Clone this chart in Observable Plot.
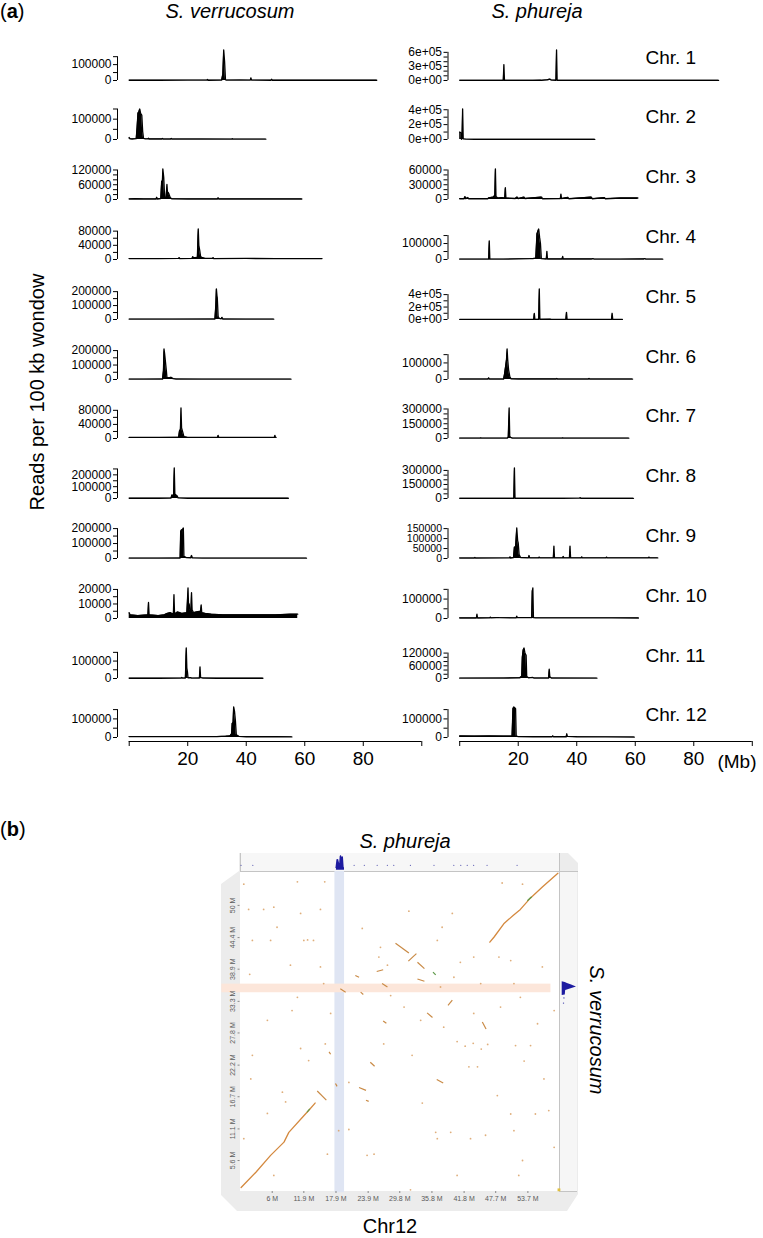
<!DOCTYPE html>
<html><head><meta charset="utf-8">
<script src="https://cdn.jsdelivr.net/npm/d3@7"></script>
<script src="https://cdn.jsdelivr.net/npm/@observablehq/plot@0.6"></script>
<style>
body{margin:0;background:#fff;}
#root{position:relative;width:763px;height:1238px;overflow:hidden;font-family:"Liberation Sans",Arial,Helvetica,sans-serif;color:#000;background:#fff;}
.abs{position:absolute;white-space:nowrap;}
#root svg{overflow:visible;position:absolute;}
#root svg.pa text{fill:#000 !important;}
#root svg.pb text{fill:#5a5a5a !important;}
</style></head><body><div id="root"></div>
<script>
// ---------------- DATA (a): reads per 100 kb window, [Mb, reads] ----------------
const chromosomes = ["Chr. 1","Chr. 2","Chr. 3","Chr. 4","Chr. 5","Chr. 6","Chr. 7","Chr. 8","Chr. 9","Chr. 10","Chr. 11","Chr. 12"];
const speciesA = ["S. verrucosum", "S. phureja"];

const verr1 = [[0,1500],[10,1500],[20,1800],[26.6,2000],[26.8,6000],[27.0,1500],[31.6,2000],[32.0,40000],[32.3,192000],[32.6,120000],[32.9,5000],[33.2,2000],[38,2500],[41.4,2000],[41.6,17000],[41.8,2000],[48.5,1500],[48.7,8000],[48.9,1500],[55,1500],[70,1500],[84.6,1500]];
const verr2 = [[0,10000],[0.3,3000],[1,2500],[2.4,4000],[2.7,60000],[3.0,130000],[3.3,135000],[3.6,150000],[3.9,128000],[4.3,120000],[4.6,40000],[4.9,5000],[5.5,3000],[6.4,3000],[6.6,6000],[6.8,2500],[11.2,2500],[11.4,5000],[11.6,2000],[14.2,2000],[14.4,5000],[14.6,2000],[25,2000],[35.1,1500],[35.3,4000],[35.5,1500],[46.7,1500]];
const verr3 = [[0,2000],[2,3000],[5,2000],[9.2,2000],[9.4,9000],[9.6,2000],[10.8,4000],[11.1,75000],[11.3,60000],[11.5,124000],[11.8,90000],[12.1,10000],[12.6,8000],[12.9,61000],[13.1,25000],[13.3,29000],[13.6,22000],[14.0,8000],[14.5,3000],[20,2000],[30.2,2000],[30.4,7000],[30.6,2000],[40,2000],[59,2000]];
const verr4 = [[0,2500],[10,2500],[16.9,3000],[17.1,5000],[17.3,2500],[21.5,3000],[21.7,8000],[22.0,5000],[23.3,6000],[23.6,86000],[23.8,40000],[24.1,26000],[24.4,8000],[25,5000],[26,3000],[28.5,3000],[28.7,5000],[28.9,2500],[40,3000],[50,2500],[65.9,2500]];
const verr5 = [[0,2000],[15,2000],[29.3,3000],[29.6,100000],[29.8,219000],[30.0,170000],[30.1,157000],[30.4,20000],[30.8,8000],[31.4,5000],[31.7,15000],[32.0,3000],[40,2000],[49.4,2000]];
const verr6 = [[0,2000],[5,2500],[11.4,3000],[11.7,60000],[11.9,211000],[12.1,180000],[12.4,120000],[12.7,60000],[12.9,15000],[13.5,12000],[14.3,15000],[15.0,6000],[16,3000],[25,2500],[35,2000],[55.3,2000]];
const verr7 = [[0,3000],[10,3000],[16.9,3500],[17.2,22000],[17.5,25000],[17.7,86600],[17.9,30000],[18.3,18000],[18.7,5000],[20,3000],[30.2,3000],[30.4,9000],[30.6,3000],[40,3000],[49.6,3000],[49.8,9000],[50.0,3000],[50.2,3000]];
const verr8 = [[0,2000],[10,2000],[14.3,3000],[14.6,30000],[14.9,12000],[15.2,40000],[15.4,258000],[15.6,40000],[15.9,30000],[16.3,25000],[16.7,5000],[20,2000],[35,2000],[54.4,2000]];
const verr9 = [[0,2000],[10,2000],[17.4,3000],[17.6,180000],[17.9,192000],[18.2,190000],[18.5,204000],[18.7,15000],[19.5,6000],[21.1,5000],[21.3,20000],[21.6,4000],[25,2000],[40,2000],[60.6,2000]];
const verr10 = [[0,4000],[0.3,2500],[3,2000],[6.4,2500],[6.6,11000],[6.8,2500],[10,2000],[12,2500],[13,3500],[14,4000],[15.1,3000],[15.3,16400],[15.5,3000],[16.5,4500],[18,3500],[19.7,4000],[19.9,12000],[20.1,21000],[20.3,8000],[20.5,10000],[20.7,6000],[21.1,5000],[21.3,17800],[21.5,6000],[22,4000],[23,4500],[24.4,5000],[24.6,9300],[24.8,4000],[26,3500],[28,3000],[32,2500],[38,2500],[45,2500],[50,2500],[55,3000],[57.6,3000]];
const verr11 = [[0,1500],[10,1500],[17.8,2000],[18.0,6000],[18.2,2000],[19.2,3000],[19.5,175000],[19.7,60000],[19.9,40000],[20.1,4000],[21,5000],[21.3,2000],[24.0,3000],[24.2,67000],[24.4,5000],[25,3000],[30,1500],[45.7,1500]];
const verr12 = [[0,5000],[10,5000],[20,4500],[30,5000],[33,7000],[34.5,9000],[35.0,20000],[35.2,75000],[35.5,80000],[35.7,164000],[36.0,140000],[36.3,90000],[36.6,15000],[37.5,6000],[40,4000],[50,4000],[55.6,3000]];

const phu1 = [[0,3000],[10,3000],[14.9,3000],[15.1,340000],[15.3,3000],[20,3000],[25,4000],[27.5,8000],[28,3000],[30,15000],[30.8,30000],[31.3,8000],[32.9,5000],[33.1,650000],[33.3,5000],[40,3000],[60,3000],[80,3000],[88.5,3000]];
const phu2 = [[0,100000],[0.4,90000],[0.6,3000],[0.8,20000],[1.0,410000],[1.2,8000],[2,5000],[5,3000],[10,3000],[20,3000],[35,3000],[46.2,3000]];
const phu3 = [[0,1500],[1.5,1500],[1.8,6000],[2.1,1500],[2.8,4000],[3.1,1500],[9.6,1500],[10.0,3500],[10.5,4000],[11.5,5000],[12.0,8000],[12.2,62000],[12.4,6000],[13,3000],[14.5,4000],[15.4,3000],[15.6,24000],[15.8,3000],[19,2000],[19.6,5000],[20,2000],[22,5000],[22.3,2000],[28,5000],[28.3,1500],[34.4,2000],[34.6,11000],[34.8,2000],[37,4500],[37.3,1500],[45,5000],[45.3,1500],[49.5,4000],[49.8,1500],[55,3000],[58.5,3000],[60.9,3000]];
const phu4 = [[0,2000],[9.9,2000],[10.1,117000],[10.3,2000],[15,2000],[24.0,5000],[25,6000],[26.0,8000],[26.4,160000],[26.7,175000],[27.0,191000],[27.3,140000],[27.6,100000],[27.9,5000],[29.6,3000],[29.8,51000],[30.0,3000],[35.0,3000],[35.2,20000],[35.4,3000],[45,3000],[45.5,5000],[46,2000],[55,2000],[63,3000],[63.3,6000],[63.6,2000],[69.4,2000]];
const phu5 = [[0,2000],[20,2000],[25.3,2000],[25.5,97000],[25.7,2000],[27.0,3000],[27.2,490000],[27.4,3000],[31,5000],[31.3,2000],[36.3,2000],[36.5,115000],[36.7,2000],[45,2000],[51.9,2000],[52.1,100000],[52.3,2000],[55.6,2000]];
const phu6 = [[0,2500],[9.7,2500],[9.9,10000],[10.1,2500],[15.0,3000],[15.3,30000],[15.7,80000],[16.0,120000],[16.2,184000],[16.4,120000],[16.7,60000],[17.1,20000],[17.5,4000],[20,3000],[33,3000],[33.2,6000],[33.4,2500],[44,2500],[44.2,6000],[44.4,2500],[59.1,2500]];
const phu7 = [[0,3000],[7,3000],[7.2,6000],[7.4,3000],[16.3,3000],[16.6,15000],[16.9,310000],[17.1,20000],[17.4,12000],[18,3000],[35,3000],[35.2,6000],[35.4,3000],[57.8,3000]];
const phu8 = [[0,2000],[18.5,2000],[18.7,326000],[18.9,2000],[35,2000],[41,3000],[41.2,8000],[41.4,2000],[59.4,2000]];
const phu9 = [[0,2000],[5,2000],[5.2,5000],[5.4,2000],[17,3000],[17.2,8000],[17.4,2000],[18.4,5000],[18.7,58000],[18.9,30000],[19.2,80000],[19.5,153000],[19.8,90000],[20.0,78000],[20.3,20000],[20.8,5000],[23.5,3000],[23.7,15000],[23.9,3000],[27,3000],[27.2,7000],[27.4,3000],[32.0,3000],[32.2,62000],[32.4,3000],[35.2,3000],[35.4,10000],[35.6,3000],[37.5,3000],[37.7,62000],[37.9,3000],[41.5,3000],[41.7,8000],[41.9,3000],[50,3000],[50.2,7000],[50.4,3000],[64.5,3000],[64.7,7000],[64.9,3000],[67.7,3000]];
const phu10 = [[0,2500],[5.7,2500],[5.9,22000],[6.1,2500],[10.3,3000],[10.5,7000],[10.7,3000],[12.5,5000],[13.5,4000],[19.3,3000],[19.5,12000],[19.7,4000],[24.6,4000],[24.8,140000],[25.0,157000],[25.2,5000],[26,3000],[32,3000],[40,3000],[48,3000],[52,3000],[61.1,2500]];
const phu11 = [[0,1500],[15,2000],[20.5,3000],[21.2,10000],[21.4,100000],[21.7,135000],[22.0,144000],[22.3,120000],[22.7,110000],[22.9,10000],[23.5,3000],[25,5000],[25.3,2000],[30.4,2000],[30.6,44000],[30.8,8000],[31.3,2000],[46.9,1500]];
const phu12 = [[0,8000],[5,7500],[10,8000],[15,7500],[17.9,8000],[18.2,155000],[18.5,164000],[18.8,160000],[19.1,155000],[19.3,8000],[20,5000],[25,4000],[31.6,4000],[31.8,9000],[32,4000],[36.4,4000],[36.6,20000],[36.8,6000],[40,4000],[50,3000],[59.7,2500]];

const verrSeries = [verr1,verr2,verr3,verr4,verr5,verr6,verr7,verr8,verr9,verr10,verr11,verr12];
const phuSeries = [phu1,phu2,phu3,phu4,phu5,phu6,phu7,phu8,phu9,phu10,phu11,phu12];

// y-axis ticks and labelled ticks
const verrTicks = [
  [0,50000,100000,150000],[0,50000,100000,150000],[0,20000,40000,60000,80000,100000,120000],
  [0,20000,40000,60000,80000],[0,50000,100000,150000,200000],[0,50000,100000,150000,200000],
  [0,20000,40000,60000,80000],[0,50000,100000,150000,200000,250000],[0,50000,100000,150000,200000],
  [0,5000,10000,15000,20000],[0,50000,100000,150000],[0,50000,100000,150000]];
const verrLabels = [
  ["0","100000"],["0","100000"],["0","60000","120000"],["0","40000","80000"],["0","100000","200000"],
  ["0","100000","200000"],["0","40000","80000"],["0","100000","200000"],["0","100000","200000"],
  ["0","10000","20000"],["0","100000"],["0","100000"]];
const phuTicks = [
  [0,100000,200000,300000,400000,500000,600000],[0,100000,200000,300000,400000],[0,10000,20000,30000,40000,50000,60000],
  [0,50000,100000,150000],[0,100000,200000,300000,400000],[0,50000,100000,150000],
  [0,50000,100000,150000,200000,250000,300000],[0,50000,100000,150000,200000,250000,300000],[0,50000,100000,150000],
  [0,50000,100000,150000],[0,20000,40000,60000,80000,100000,120000],[0,50000,100000,150000]];
const phuLabels = [
  ["0e+00","3e+05","6e+05"],["0e+00","2e+05","4e+05"],["0","30000","60000"],["0","100000"],
  ["0e+00","2e+05","4e+05"],["0","100000"],["0","150000","300000"],["0","150000","300000"],
  ["0","50000","100000","150000"],["0","100000"],["0","60000","120000"],["0","100000"]];

const xTicksMb = [0,20,40,60,80,100];
const xTickLabels = ["","20","40","60","80",""];

// ---------------- DATA (b): dot plot Chr12, S. phureja (x, Mb) vs S. verrucosum (y, Mb) ----------------
const dotXTicks = [6,11.9,17.9,23.9,29.8,35.8,41.8,47.7,53.7];
const dotYTicks = [5.6,11.1,16.7,22.2,27.8,33.3,38.9,44.4,50];
const phuHighlight = [17.7,19.5];
const verrHighlight = [34.8,36.3];
const synLower = [[0.2,0.9],[3.0,3.6],[5.7,6.5],[8.2,8.8],[9.1,10.5],[11.9,13.4],[12.8,14.3],[14.0,15.6]];
const synUpper = [[46.6,43.6],[47.4,44.5],[49.2,46.8],[51.0,48.3],[52.3,49.3],[54.2,51.3],[56.4,53.2],[59.3,55.6]];
const synSegments = [[14.4,17.7,16.1,16.1],[17.8,19.0,18.1,18.5],[24.3,22.7,25.1,22.0],[22.2,18.3,23.5,17.8],[23.5,16.1,24.0,15.9],[36.7,19.7,37.9,19.1],[16.6,24.5,16.9,24.1],[29.0,43.4,31.5,41.7],[31.4,40.3,32.9,41.6],[33.1,40.1,34.4,39.0],[34.9,31.3,35.9,30.5],[38.8,32.6,39.6,33.5],[45.2,29.7,45.9,28.5],[25.5,38.5,26.7,38.8],[21.5,37.8,22.2,37.5],[18.7,35.5,19.7,34.9],[26.5,36.4,27.5,35.8],[22.5,34.9,23.0,34.5],[26.7,29.9,27.3,29.5],[33.1,37.2,34.4,36.8]];
const synGreen = [[36.0,38.4,36.5,37.9],[53.6,50.8,54.4,51.5],[12.5,14.0,13.0,14.6]];
const synDots = [[0.7,53.7],[10.7,54.1],[15.8,54.1],[48.9,53.9],[52.7,53.7],[1.6,49.3],[4.4,49.3],[11.3,48.6],[15.0,49.3],[6.3,49.7],[22.8,46.0],[31.5,49.0],[39.6,48.6],[37.7,46.2],[6.9,46.2],[11.9,43.9],[2.3,43.9],[5.7,43.9],[12.6,44.0],[13.7,43.9],[36.8,43.9],[26.2,42.7],[25.9,41.0],[43.6,41.0],[48.3,41.0],[1.8,38.0],[9.4,39.6],[15.0,39.3],[10.7,34.0],[15.6,36.4],[27.5,39.6],[41.1,40.1],[39.9,37.5],[44.9,36.4],[50.5,40.4],[51.1,36.4],[56.4,39.3],[9.7,31.7],[5.1,30.0],[16.9,31.2],[30.6,32.3],[28.1,34.3],[37.4,35.8],[38.0,28.8],[33.7,30.0],[43.6,31.2],[48.6,32.3],[52.3,34.0],[55.5,29.4],[58.6,31.7],[2.3,23.9],[11.3,25.1],[12.8,23.0],[15.9,25.9],[2.0,19.8],[7.9,17.5],[8.5,15.8],[5.1,13.8],[0.7,9.4],[6.3,3.0],[16.3,6.7],[18.4,10.8],[20.3,11.0],[20.3,19.2],[23.7,6.5],[25.0,6.7],[26.8,25.9],[32.1,23.9],[34.0,15.6],[36.5,10.5],[36.8,9.4],[39.3,10.5],[40.5,3.0],[43.0,9.4],[45.8,10.0],[48.0,16.9],[50.5,13.7],[51.1,10.8],[52.7,5.6],[52.0,3.0],[53.0,22.9],[55.1,13.7],[56.7,19.8],[57.6,14.3],[58.6,7.9],[31.8,0.5],[42.7,21.9],[44.3,21.9],[51.4,25.6],[54.2,25.6],[40.5,26.3],[42.0,25.5],[43.5,26.0],[45.0,25.0],[46.2,25.8]];
const cornerDot = [[59.5,0.5]];
// coverage tracks along the dot plot margins
const phuTrack = [[17.8,0],[18.0,110000],[18.3,115000],[18.5,60000],[18.6,150000],[18.8,164000],[19.0,140000],[19.2,150000],[19.35,0]];
const phuTrackDots = [0.1,2.3,21.2,23.1,25.5,27.4,28.6,31.7,36.1,39.8,41.1,42.3,43.5,46.0,51.6];
const verrTrack = [[34.3,0],[34.4,35000],[35.2,40000],[35.8,164000],[36.2,100000],[36.4,60000],[36.6,35000],[36.7,0]];
const verrTrackDots = [[33.9,20000],[33.0,15000]];

// ---------------- LAYOUT ----------------
const root = document.getElementById("root");
const FONT = '"Liberation Sans", Arial, Helvetica, sans-serif';
function text(str, {left, top, size=20, italic=false, bold=false, anchor="start", rotate=0, color="#000", html=false}) {
  const d = document.createElement("div");
  d.className = "abs";
  d.style.fontSize = size + "px";
  d.style.lineHeight = size + "px";
  if (italic) d.style.fontStyle = "italic";
  if (bold) d.style.fontWeight = "bold";
  d.style.color = color;
  if (html) d.innerHTML = str; else d.textContent = str;
  d.style.left = left + "px";
  d.style.top = top + "px";
  const tx = anchor === "middle" ? "-50%" : anchor === "end" ? "-100%" : "0";
  d.style.transform = `translate(${tx}, -50%)` + (rotate ? ` rotate(${rotate}deg)` : "");
  root.appendChild(d);
  return d;
}
function box(left, top, w, h, bg, extra={}) {
  const d = document.createElement("div");
  d.className = "abs";
  Object.assign(d.style, {left: left+"px", top: top+"px", width: w+"px", height: h+"px", background: bg}, extra);
  root.appendChild(d);
  return d;
}
function place(svg, left, top, cls) {
  svg.style.left = left + "px";
  svg.style.top = top + "px";
  if (cls) svg.classList.add(cls);
  root.appendChild(svg);
}

// ---- part (a)
const rowBase0 = 79.5, rowStep = 59.8, peakPx = 30.5;
const colAxis = [117, 447.5];   // page x of each column's y-axis (R plot-region edge)
const colLeft = [0, 380];
const xSpan = 316;             // px for R usr range [-4, 104] Mb

function panel(series, ticks, labels, col, i) {
  const base = 40;
  const axisLocal = colAxis[col] - colLeft[col];
  const maxV = d3.max(series, d => d[1]);
  const labelSet = new Map(labels.map(s => [+s, s]));
  const lv = labels.map(Number).sort((a, b) => a - b);
  const gapPx = d3.min(d3.pairs(lv), ([a, b]) => (b - a) * peakPx / maxV);
  const fs = Math.min(12, gapPx + 0.6);
  const svg = Plot.plot({
    width: 383, height: 48,
    marginLeft: axisLocal, marginRight: 0, marginTop: 0, marginBottom: 8,
    style: {fontFamily: FONT, background: "none", overflow: "visible", color: "#000"},
    x: {domain: [-4, 104], range: [axisLocal, axisLocal + xSpan], axis: null},
    y: {domain: [0, maxV], range: [base, base - peakPx], axis: null},
    marks: [
      Plot.areaY(series, {x: d => d[0], y: d => d[1], fill: "#000", curve: "linear"}),
      Plot.line(series, {x: d => d[0], y: d => d[1], stroke: "#000", strokeWidth: 1.3}),
      Plot.ruleX([-4], {y1: 0, y2: d3.max(ticks), stroke: "#000", strokeWidth: 1}),
      Plot.axisY(ticks, {anchor: "left", label: null, tickSize: 4, tickPadding: 2, fontSize: fs,
        stroke: "#000", tickFormat: d => labelSet.get(d) ?? ""})
    ]
  });
  place(svg, colLeft[col], rowBase0 + rowStep * i - base, "pa");
}
for (let i = 0; i < 12; i++) {
  panel(verrSeries[i], verrTicks[i], verrLabels[i], 0, i);
  panel(phuSeries[i], phuTicks[i], phuLabels[i], 1, i);
  text(chromosomes[i], {left: 645.5, top: rowBase0 + rowStep * i - 23, size: 19});
}
// bottom x axes (Mb)
for (let col = 0; col < 2; col++) {
  const axisLocal = colAxis[col] - colLeft[col];
  const svg = Plot.plot({
    width: 383, height: 40, marginLeft: axisLocal, marginRight: 0, marginTop: 0, marginBottom: 36,
    style: {fontFamily: FONT, background: "none", overflow: "visible", color: "#000"},
    x: {domain: [-4, 104], range: [axisLocal, axisLocal + xSpan], axis: null},
    y: {domain: [0, 1], range: [4, 0], axis: null},
    marks: [
      Plot.ruleY([0], {x1: d3.min(xTicksMb), x2: d3.max(xTicksMb), stroke: "#000", strokeWidth: 1}),
      Plot.axisX(xTicksMb, {anchor: "bottom", label: null, tickSize: 5, tickPadding: 5, fontSize: 19,
        stroke: "#000", tickFormat: d => xTickLabels[xTicksMb.indexOf(d)]})
    ]
  });
  place(svg, colLeft[col], 737, "pa");
}
text("(Mb)", {left: 737, top: 761, size: 19, anchor: "middle"});
text("(<b>a</b>)", {left: 0, top: 11, size: 20, html: true});
text(speciesA[0], {left: 230, top: 11, size: 20, italic: true, anchor: "middle"});
text(speciesA[1], {left: 537, top: 11, size: 20, italic: true, anchor: "middle"});
text("Reads per 100 kb wondow", {left: 37, top: 392, size: 20, anchor: "middle", rotate: -90});

// ---- part (b)
text("(<b>b</b>)", {left: 0, top: 829, size: 20, html: true});
text("S. phureja", {left: 405, top: 841, size: 20, italic: true, anchor: "middle"});
text("S. verrucosum", {left: 597, top: 1030, size: 20, italic: true, anchor: "middle", rotate: 90});
text("Chr12", {left: 390, top: 1226, size: 20, anchor: "middle"});

// frame decoration
box(221, 853, 357, 358, "#ececec", {clipPath: "polygon(18px 0, 347px 0, 357px 10px, 357px 341px, 346px 358px, 16px 358px, 0 342px, 0 31px, 18px 18px)"});
box(239.5, 853, 319.5, 18, "#f7f7f7", {borderLeft: "1px solid #c6c6c6", boxSizing: "border-box"});
box(559, 871, 18, 320, "#f6f6f6");
box(239.5, 871, 319.5, 320, "#ffffff");
box(239.5, 870.5, 338, 1, "#c4c4c4");
box(558.5, 853, 1, 338, "#c4c4c4");
box(559, 1190.5, 18, 1, "#c4c4c4");

const dpW = 360, dpH = 365, dpLeft = 220, dpTop = 850;
const xR = [239.55 - dpLeft, 559 - dpLeft];
const yR = [1192.2 - dpTop, 871 - dpTop];
const xDom = [0, 59.6], yDom = [0, 55.9];
const orange = "#d4893f";
const dot = Plot.plot({
  width: dpW, height: dpH,
  marginLeft: xR[0], marginRight: dpW - xR[1], marginTop: yR[1], marginBottom: dpH - 341,
  style: {fontFamily: FONT, background: "none", overflow: "visible", color: "#666"},
  x: {domain: xDom, range: xR, axis: null},
  y: {domain: yDom, range: yR, axis: null},
  marks: [
    Plot.rect([phuHighlight], {x1: d => d[0], x2: d => d[1], y1: yDom[0], y2: yDom[1], fill: "#dfe5f3"}),
    Plot.rect([verrHighlight], {x1: -3.4, x2: 58, y1: d => d[0], y2: d => d[1], fill: "#fce6da", clip: false}),
    Plot.dot(synDots, {x: d => d[0], y: d => d[1], r: 0.9, fill: "#d9a064", fillOpacity: 0.85}),
    Plot.dot(cornerDot, {x: d => d[0], y: d => d[1], r: 1.6, fill: "#e0c040", symbol: "square"}),
    Plot.line(synLower, {x: d => d[0], y: d => d[1], stroke: orange, strokeWidth: 1.3}),
    Plot.line(synUpper, {x: d => d[0], y: d => d[1], stroke: orange, strokeWidth: 1.3}),
    Plot.link(synSegments, {x1: d => d[0], y1: d => d[1], x2: d => d[2], y2: d => d[3], stroke: "#c98a45", strokeWidth: 1.2}),
    Plot.link(synGreen, {x1: d => d[0], y1: d => d[1], x2: d => d[2], y2: d => d[3], stroke: "#5f9a4a", strokeWidth: 1.2}),
    Plot.axisX(dotXTicks, {anchor: "bottom", label: null, tickSize: 2, tickPadding: 3, fontSize: 7,
      stroke: "#888", tickFormat: d => `${d} M`}),
    Plot.axisY(dotYTicks, {anchor: "left", label: null, tickSize: 2, tickPadding: 3, fontSize: 7, tickRotate: -90,
      stroke: "#888", tickFormat: d => `${d} M`})
  ]
});
place(dot, dpLeft, dpTop, "pb");

// top coverage track (S. phureja)
const topTrack = Plot.plot({
  width: 319.5, height: 18, margin: 0,
  style: {background: "none", overflow: "visible"},
  x: {domain: xDom, range: [0, 319.45], axis: null},
  y: {domain: [0, 164000], range: [15, 2], axis: null},
  marks: [
    Plot.areaY(phuTrack, {x: d => d[0], y: d => d[1], fill: "#1d1ba0"}),
    Plot.ruleY([0], {x1: phuHighlight[0] + 0.2, x2: phuHighlight[1] - 0.1, stroke: "#1d1ba0", strokeWidth: 2.5}),
    Plot.dot(phuTrackDots, {x: d => d, y: 40000, r: 0.6, fill: "#5555b0"})
  ]
});
place(topTrack, 239.55, 853);

// right coverage track (S. verrucosum)
const rightTrack = Plot.plot({
  width: 20, height: dpH, margin: 0,
  style: {background: "none", overflow: "visible"},
  x: {domain: [0, 164000], range: [2.7, 17], axis: null},
  y: {domain: yDom, range: yR, axis: null},
  marks: [
    Plot.areaX(verrTrack, {y: d => d[0], x: d => d[1], fill: "#1d1ba0"}),
    Plot.dot(verrTrackDots, {y: d => d[0], x: d => d[1], r: 0.7, fill: "#3a3aa8"})
  ]
});
place(rightTrack, 559, dpTop);
</script></body></html>
